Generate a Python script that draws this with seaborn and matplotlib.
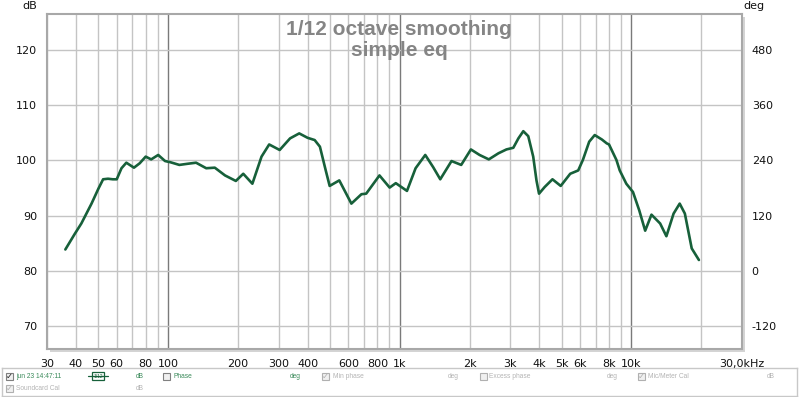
"""Smoothed frequency response (REW style) with SPL and phase axes."""

import matplotlib

matplotlib.use("Agg")
import matplotlib.pyplot as plt
import matplotlib.ticker as mticker
import numpy as np
import pandas as pd
import seaborn as sns
from matplotlib.patches import Rectangle

# values
freq_hz = [
    36.0, 39.5, 42.2, 46.7, 50, 52.4, 55, 57.7, 60, 62.9, 66, 71.2, 75.4, 80,
    84.5, 90.6, 97, 102, 111.8, 121, 132, 146, 159, 176, 196, 211, 231, 253,
    273, 303, 336, 368, 400, 429, 452, 479, 498, 548, 577, 618, 683, 716, 817,
    904, 961, 1074, 1170, 1288, 1393, 1495, 1672, 1841, 2027, 2210, 2422, 2665,
    2886, 3090, 3250, 3413, 3585, 3766, 3890, 3990, 4220, 4560, 4950, 5440,
    5890, 6170, 6570, 6940, 7450, 7820, 8000, 8610, 8900, 9500, 10150, 10800,
    11460, 12200, 13300, 14150, 15200, 16150, 17000, 18200, 19550,
]
spl_db = [
    83.9, 86.7, 88.6, 92.2, 94.9, 96.6, 96.7, 96.6, 96.6, 98.6, 99.6, 98.7,
    99.5, 100.7, 100.2, 101.0, 99.9, 99.7, 99.2, 99.4, 99.6, 98.6, 98.7, 97.3,
    96.3, 97.6, 95.8, 100.7, 102.9, 101.9, 104.0, 104.9, 104.1, 103.7, 102.5,
    98.2, 95.4, 96.4, 94.6, 92.2, 93.9, 94.0, 97.3, 95.1, 95.9, 94.5, 98.6,
    101.0, 98.8, 96.6, 99.9, 99.2, 102.0, 101.0, 100.2, 101.3,
    102.0, 102.3, 104.0, 105.3, 104.4, 100.7, 96.4, 94.0, 95.2, 96.6, 95.4,
    97.6, 98.2, 100.1, 103.4, 104.6, 103.8, 103.1, 102.9, 100.1, 98.2, 95.8,
    94.3, 91.0, 87.3, 90.2, 88.6, 86.3, 90.4, 92.2, 90.4, 84.1, 82.0,
]

x_ticks = [30, 40, 50, 60, 80, 100, 200, 300, 400, 600, 800, 1000, 2000,
           3000, 4000, 5000, 6000, 8000, 10000, 30000]
x_labels = ["30", "40", "50", "60", "80", "100", "200", "300", "400", "600",
            "800", "1k", "2k", "3k", "4k", "5k", "6k", "8k", "10k", "30,0kHz"]
grid_hz = [f * m for m in (10, 100, 1000) for f in range(1, 10)] + [10000, 20000]
db_ticks = [70, 80, 90, 100, 110, 120]
deg_ticks = [-120, 0, 120, 240, 360, 480]

db_lim = (65.9, 126.5)
x_lim = (30, 30000)

df = pd.DataFrame({"freq": freq_hz, "spl": spl_db})

sns.set_style("white")
plt.rcParams["font.family"] = ["Liberation Sans", "DejaVu Sans"]
plt.rcParams["axes.unicode_minus"] = False

W, H = 800, 397
fig = plt.figure(figsize=(W / 100, H / 100), dpi=100)
ax_l, ax_r, ax_t, ax_b = 47, 742, 14, 349
pos = [ax_l / W, 1 - ax_b / H, (ax_r - ax_l) / W, (ax_b - ax_t) / H]

# drop shadow behind the plot frame
fig.patches.append(Rectangle(((ax_l + 3) / W, 1 - (ax_b + 3) / H),
                             (ax_r - ax_l) / W, (ax_b - ax_t) / H,
                             transform=fig.transFigure, facecolor="#d4d4d4",
                             edgecolor="none", zorder=0))

ax = fig.add_axes(pos)
ax.set_facecolor("white")
ax.set_zorder(1)

sns.lineplot(data=df, x="freq", y="spl", color="#17603a", linewidth=1.9,
             ax=ax, zorder=5)
ax.lines[-1].set_solid_joinstyle("round")

ax.set_xscale("log")
ax.set_xlim(x_lim)
ax.set_ylim(db_lim)

for f in grid_hz:
    major = f in (100, 1000, 10000)
    ax.axvline(f, color="#7a7a7a" if major else "#c4c4c4",
               lw=1.0, zorder=1)
for d in db_ticks:
    ax.axhline(d, color="#c4c4c4", lw=1.0, zorder=1)

tick_font = {"family": "DejaVu Sans", "size": 8}
ax.xaxis.set_major_locator(mticker.FixedLocator(x_ticks))
ax.xaxis.set_major_formatter(mticker.FixedFormatter(x_labels))
ax.xaxis.set_minor_locator(mticker.NullLocator())
ax.set_yticks(db_ticks)
ax.tick_params(axis="both", length=0, colors="#111111")
ax.tick_params(axis="x", pad=7)
ax.tick_params(axis="y", pad=7)
for lab in ax.get_xticklabels() + ax.get_yticklabels():
    lab.set_fontfamily(tick_font["family"])
    lab.set_fontsize(tick_font["size"])
ax.set_xlabel("")
ax.set_ylabel("")
for s in ax.spines.values():
    s.set_color("#a8a8a8")
    s.set_linewidth(1.5)

ax2 = ax.twinx()
ax2.set_ylim((db_lim[0] - 80) * 12, (db_lim[1] - 80) * 12)
ax2.set_yticks(deg_ticks)
ax2.set_yticklabels([str(d) for d in deg_ticks])
ax2.tick_params(axis="y", length=0, colors="#111111", pad=7)
for lab in ax2.get_yticklabels():
    lab.set_fontfamily(tick_font["family"])
    lab.set_fontsize(tick_font["size"])
for s in ax2.spines.values():
    s.set_visible(False)

fig.text(30 / W, 1 - 6 / H, "dB", va="center", ha="center", color="#111111",
         **tick_font)
fig.text(754 / W, 1 - 6 / H, "deg", va="center", ha="center",
         color="#111111", **tick_font)

fig.text(399 / W, 1 - 20 / H, "1/12 octave smoothing\nsimple eq",
         fontsize=15, fontweight="bold", color="#858585", ha="center",
         va="top", linespacing=1.1, zorder=10)

# legend strip below the chart
lg = fig.add_axes([2 / W, 1 - 396 / H, 795 / W, 28 / H])
lg.set_xlim(0, 795)
lg.set_ylim(28, 0)
lg.set_xticks([])
lg.set_yticks([])
for s in lg.spines.values():
    s.set_color("#c8c8c8")
    s.set_linewidth(1.0)


def checkbox(x, y, checked, grey):
    edge = "#b0b0b0" if grey else "#808080"
    lg.add_patch(Rectangle((x, y - 3.5), 7, 7, facecolor="#f0f0f0",
                           edgecolor=edge, lw=0.8))
    if checked:
        lg.text(x + 3.5, y, "\u2713", fontsize=6, ha="center", va="center",
                color="#b0b0b0" if grey else "#202020",
                family="DejaVu Sans")


green = "#3a8a5a"
grey = "#b4b4b4"
r1, r2 = 8, 20
checkbox(4, r1, True, False)
lg.text(14, r1, "jun 23 14:47:11", fontsize=4.8, color=green, va="center")
lg.plot([86, 106], [r1, r1], color="#17603a", lw=0.9)
lg.add_patch(Rectangle((90, r1 - 4), 12, 8, facecolor="white",
                       edgecolor="#17603a", lw=0.9))
lg.text(96, r1, "1/12", fontsize=3.5, color="#17603a", ha="center",
        va="center")
lg.text(134, r1, "dB", fontsize=4.8, color=green, va="center")
checkbox(161, r1, False, False)
lg.text(171, r1, "Phase", fontsize=4.8, color=green, va="center")
lg.text(288, r1, "deg", fontsize=4.8, color=green, va="center")
checkbox(320, r1, True, True)
lg.text(331, r1, "Min phase", fontsize=4.8, color=grey, va="center")
lg.text(446, r1, "deg", fontsize=4.8, color=grey, va="center")
checkbox(478, r1, False, True)
lg.text(487, r1, "Excess phase", fontsize=4.8, color=grey, va="center")
lg.text(605, r1, "deg", fontsize=4.8, color=grey, va="center")
checkbox(636, r1, True, True)
lg.text(646, r1, "Mic/Meter Cal", fontsize=4.8, color=grey, va="center")
lg.text(765, r1, "dB", fontsize=4.8, color=grey, va="center")
checkbox(4, r2, True, True)
lg.text(14, r2, "Soundcard Cal", fontsize=4.8, color=grey, va="center")
lg.text(134, r2, "dB", fontsize=4.8, color=grey, va="center")

fig.savefig("out.png", dpi=100, facecolor="white")
plt.close(fig)
